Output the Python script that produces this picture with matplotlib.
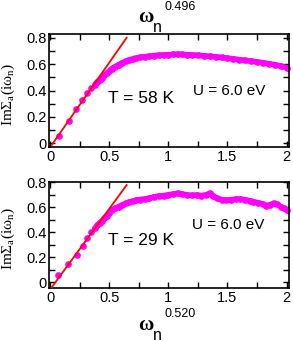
import matplotlib
matplotlib.use("Agg")
import matplotlib.pyplot as plt
from matplotlib.ticker import MultipleLocator

plt.rcParams['font.family'] = ['Liberation Sans', 'DejaVu Sans']
plt.rcParams['mathtext.fontset'] = 'custom'
plt.rcParams['mathtext.rm'] = 'Liberation Serif'
plt.rcParams['mathtext.it'] = 'Liberation Serif'
plt.rcParams['mathtext.bf'] = 'Liberation Serif:bold'

# ---- data ----
x_top = [0.076, 0.16, 0.22, 0.27, 0.31, 0.35, 0.38, 0.40, 0.42, 0.44, 0.46, 0.48,
         0.50, 0.52, 0.55, 0.58, 0.61, 0.64, 0.67, 0.70, 0.73, 0.76, 0.80, 0.84,
         0.88, 0.92, 0.96, 1.00, 1.04, 1.08, 1.12, 1.16, 1.20, 1.25, 1.30, 1.35,
         1.40, 1.45, 1.50, 1.55, 1.60, 1.65, 1.70, 1.75, 1.80, 1.85, 1.90, 1.95, 2.00]
y_top = [0.055, 0.17, 0.26, 0.33, 0.38, 0.42, 0.445, 0.465, 0.482, 0.497, 0.515, 0.530,
         0.545, 0.565, 0.580, 0.595, 0.610, 0.622, 0.632, 0.640, 0.646, 0.651, 0.656, 0.660,
         0.664, 0.667, 0.669, 0.671, 0.673, 0.674, 0.673, 0.671, 0.669, 0.667, 0.663, 0.659,
         0.655, 0.650, 0.645, 0.640, 0.634, 0.628, 0.622, 0.617, 0.610, 0.603, 0.596, 0.585, 0.573]

x_bot = [0.07, 0.155, 0.225, 0.276, 0.31, 0.35, 0.38, 0.40, 0.42, 0.44, 0.46, 0.48,
         0.50, 0.52, 0.55, 0.58, 0.61, 0.64, 0.67, 0.70, 0.73, 0.76, 0.80, 0.84,
         0.88, 0.92, 0.96, 1.00, 1.04, 1.08, 1.12, 1.16, 1.20, 1.24, 1.28, 1.32,
         1.35, 1.38, 1.41, 1.45, 1.49, 1.53, 1.57, 1.61, 1.65, 1.69, 1.72, 1.76,
         1.80, 1.83, 1.86, 1.89, 1.92, 1.95, 1.98, 2.00]
y_bot = [0.056, 0.142, 0.22, 0.286, 0.35, 0.40, 0.43, 0.455, 0.475, 0.49, 0.51, 0.53,
         0.55, 0.575, 0.59, 0.605, 0.618, 0.632, 0.642, 0.650, 0.658, 0.662, 0.666, 0.672,
         0.684, 0.690, 0.693, 0.700, 0.705, 0.711, 0.705, 0.698, 0.695, 0.698, 0.693, 0.700,
         0.711, 0.690, 0.671, 0.662, 0.658, 0.660, 0.665, 0.666, 0.660, 0.652, 0.645, 0.636,
         0.625, 0.613, 0.620, 0.631, 0.625, 0.605, 0.590, 0.580]

fit_x = [0.014, 0.648]
fit_top = [-0.013, 0.80]
fit_bot = [-0.043, 0.778]

labels_top = ("T = 58 K", "U = 6.0 eV", "0.496")
labels_bot = ("T = 29 K", "U = 6.0 eV", "0.520")

W, H = 293, 341
fig = plt.figure(figsize=(W / 100, H / 100), dpi=100)
MAG = '#ff00ff'

def make_ax(rect, xs, ys, fy, ylim, tlab, ulab, tpos, upos):
    ax = fig.add_axes(rect)
    # dense part of the series drawn as a continuous band of markers
    ax.plot(xs[6:], ys[6:], '-', color=MAG, lw=4.0, solid_capstyle='round',
            solid_joinstyle='round', clip_on=False, zorder=2)
    ax.plot(xs, ys, 'o', color=MAG, ms=3.8, mec=MAG, clip_on=False, zorder=2)
    ax.plot(fit_x, fy, '-', color='#ff0000', lw=1.3, zorder=3)
    ax.set_xlim(-0.006, 2.018)
    ax.set_ylim(*ylim)
    ax.xaxis.set_minor_locator(MultipleLocator(0.25))
    ax.yaxis.set_minor_locator(MultipleLocator(0.1))
    ax.set_xticks([0, 0.5, 1, 1.5, 2])
    ax.set_xticklabels(['0', '0.5', '1', '1.5', '2'])
    ax.set_yticks([0, 0.2, 0.4, 0.6, 0.8])
    ax.set_yticklabels(['0', '0.2', '0.4', '0.6', '0.8'])
    ax.tick_params(which='both', direction='in', top=True, right=True, width=1.0,
                   labelsize=10.5, colors='black')
    ax.tick_params(which='major', length=4, pad=2)
    ax.tick_params(which='minor', length=4)
    for s in ax.spines.values():
        s.set_linewidth(1.2)
    ax.text(tpos[0], tpos[1], tlab, fontsize=12.5, ha='left', va='center')
    ax.text(upos[0], upos[1], ulab, fontsize=11, ha='left', va='center')
    ax.set_ylabel(r'Im$\Sigma_{\mathrm{a}}$(i$\omega_{\mathrm{n}}$)', fontsize=11,
                  family=['Liberation Serif', 'DejaVu Serif'])
    ax.yaxis.set_label_coords(-0.135, 0.46)
    return ax

l, r = 49.3 / W, 288.7 / W
ax1 = make_ax([l, 1 - 147 / H, r - l, (147 - 34) / H], x_top, y_top, fit_top,
              (-0.028, 0.828), labels_top[0], labels_top[1], (0.49, 0.343), (1.21, 0.396))
ax2 = make_ax([l, 1 - 288 / H, r - l, (288 - 181.7) / H], x_bot, y_bot, fit_bot,
              (-0.048, 0.805), labels_bot[0], labels_bot[1], (0.49, 0.337), (1.20, 0.457))

def omega_label(yw, yn, ye, exp):
    fig.text(146.7 / W, 1 - yw / H, r'$\mathbf{\omega}$', fontsize=15, ha='center', va='baseline')
    fig.text(157.5 / W, 1 - yn / H, 'n', fontsize=11.5, ha='center', va='baseline')
    fig.text(180 / W, 1 - ye / H, exp, fontsize=9, ha='center', va='center')

omega_label(21.5, 32, 6.5, labels_top[2])
omega_label(330, 339.5, 314, labels_bot[2])

fig.savefig('out.png', dpi=100)
